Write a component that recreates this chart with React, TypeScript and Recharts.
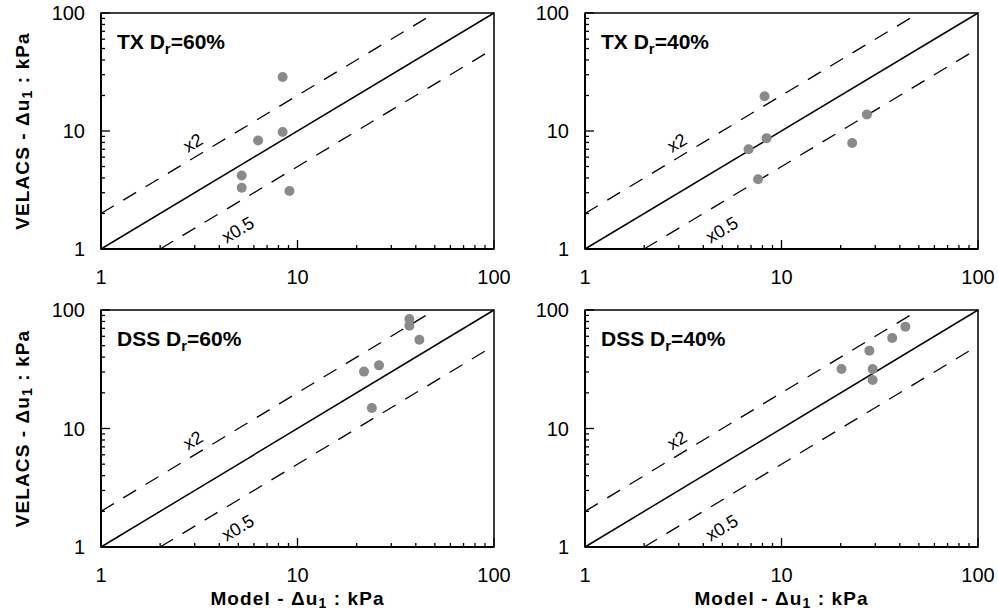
import React from "react";
import {
  ScatterChart,
  Scatter,
  XAxis,
  YAxis,
  ReferenceLine,
  ReferenceArea
} from "recharts";

// values (Model vs VELACS, kPa)
const TX60_MODEL = [8.4, 8.4, 6.3, 5.2, 5.2, 9.1];
const TX60_VELACS = [28.7, 9.8, 8.3, 4.2, 3.3, 3.1];

const TX40_MODEL = [8.2, 8.4, 6.8, 7.6, 22.9, 27.2];
const TX40_VELACS = [19.7, 8.7, 7.0, 3.9, 7.9, 13.8];

const DSS60_MODEL = [37.1, 37.1, 41.7, 21.8, 26.0, 23.9];
const DSS60_VELACS = [84, 73.7, 56.1, 30.2, 34.1, 14.9];

const DSS40_MODEL = [20.2, 28.0, 29.1, 29.1, 36.6, 42.7];
const DSS40_VELACS = [31.8, 45.4, 31.8, 25.7, 58, 72.3];

const AXIS_TICKS = [1, 2, 3, 4, 5, 6, 7, 8, 9, 10, 20, 30, 40, 50, 60, 70, 80, 90, 100];
const LABELED_TICKS = [1, 10, 100];

const FONT = "'Liberation Sans', Arial, sans-serif";
const DOT = "#8a8a8a";
const Y_AXIS_W = 40;
const X_AXIS_H = 30;

function XTick(props: any) {
  const { x, y, payload } = props;
  const v = payload.value;
  const major = LABELED_TICKS.includes(v);
  return (
    <g>
      <line x1={x} x2={x} y1={y} y2={y - (major ? 9 : 4)} stroke="#000" strokeWidth={1.3} />
      {major && (
        <text x={x} y={y + 28} textAnchor="middle" dominantBaseline="central" fontSize={20} fontFamily={FONT} fill="#000">
          {v}
        </text>
      )}
    </g>
  );
}

function YTick(props: any) {
  const { x, y, payload } = props;
  const v = payload.value;
  const major = LABELED_TICKS.includes(v);
  return (
    <g>
      <line x1={x} x2={x + (major ? 9 : 4)} y1={y} y2={y} stroke="#000" strokeWidth={1.3} />
      {major && (
        <text x={x - 16} y={y} textAnchor="end" dominantBaseline="central" fontSize={20} fontFamily={FONT} fill="#000">
          {v}
        </text>
      )}
    </g>
  );
}

function lineLabel(text: string, fx: number, fy: number) {
  return (p: any) => {
    const vb = p.viewBox;
    if (!vb) return null;
    const cx = vb.x + vb.width * fx;
    const cy = vb.y + vb.height * fy;
    const ang = (-Math.atan2(vb.height, vb.width) * 180) / Math.PI;
    return (
      <text
        x={cx}
        y={cy}
        textAnchor="middle"
        dominantBaseline="central"
        fontSize={18}
        fontFamily={FONT}
        fill="#000"
        transform={`rotate(${ang} ${cx} ${cy})`}
      >
        {text}
      </text>
    );
  };
}

type PanelProps = {
  test: string;
  dr: string;
  model: number[];
  velacs: number[];
  left: number;
  top: number;
  width: number;
  height: number;
  margin: { top: number; right: number; bottom: number; left: number };
  xTitle: boolean;
  yTitle: boolean;
};

function Panel({ test, dr, model, velacs, left, top, width, height, margin, xTitle, yTitle }: PanelProps) {
  const data = model.map((m, i) => ({ x: m, y: velacs[i] }));

  return (
    <div style={{ position: "absolute", left, top }}>
      <ScatterChart width={width} height={height} margin={margin}>
        <XAxis
          type="number"
          dataKey="x"
          scale="log"
          domain={[1, 100]}
          ticks={AXIS_TICKS}
          interval={0}
          allowDataOverflow
          height={X_AXIS_H}
          tickSize={0}
          tickMargin={0}
          tickLine={false}
          tick={<XTick />}
          axisLine={{ stroke: "#000", strokeWidth: 2 }}
          label={
            xTitle
              ? (p: any) => {
                  const vb = p.viewBox;
                  const cx = vb.x + vb.width / 2;
                  const cy = vb.y + 51;
                  return (
                    <text x={cx} y={cy} textAnchor="middle" dominantBaseline="central" fontSize={19} fontWeight="bold" fontFamily={FONT} letterSpacing={1.1} fill="#000">
                      Model - Δu<tspan dy={5} fontSize={14}>1</tspan>
                      <tspan dy={-5}> : kPa</tspan>
                    </text>
                  );
                }
              : undefined
          }
        />
        <YAxis
          type="number"
          dataKey="y"
          scale="log"
          domain={[1, 100]}
          ticks={AXIS_TICKS}
          interval={0}
          allowDataOverflow
          width={Y_AXIS_W}
          tickSize={0}
          tickMargin={0}
          tickLine={false}
          tick={<YTick />}
          axisLine={{ stroke: "#000", strokeWidth: 2 }}
          label={
            yTitle
              ? (p: any) => {
                  const vb = p.viewBox;
                  const cx = vb.x + vb.width - 79;
                  const cy = vb.y + vb.height / 2;
                  return (
                    <text x={cx} y={cy} textAnchor="middle" dominantBaseline="central" fontSize={19} fontWeight="bold" fontFamily={FONT} letterSpacing={1.1} fill="#000" transform={`rotate(-90 ${cx} ${cy})`}>
                      VELACS - Δu<tspan dy={5} fontSize={14}>1</tspan>
                      <tspan dy={-5}> : kPa</tspan>
                    </text>
                  );
                }
              : undefined
          }
        />
        <ReferenceArea
          x1={1}
          x2={100}
          y1={1}
          y2={100}
          fill="none"
          stroke="#000"
          strokeWidth={1.5}
          label={(p: any) => {
            const vb = p.viewBox;
            if (!vb) return null;
            return (
              <text x={vb.x + 16} y={vb.y + 36} fontSize={21} fontWeight="bold" fontFamily={FONT} fill="#000">
                {test} D<tspan dy={5} fontSize={15}>r</tspan>
                <tspan dy={-5}>={dr}</tspan>
              </text>
            );
          }}
        />
        <ReferenceLine segment={[{ x: 1, y: 1 }, { x: 100, y: 100 }]} stroke="#000" strokeWidth={1.5} />
        <ReferenceLine
          segment={[{ x: 1, y: 2 }, { x: 50, y: 100 }]}
          stroke="#000"
          strokeWidth={1.3}
          strokeDasharray="15 11"
          label={lineLabel("x2", 0.276, 0.648)}
        />
        <ReferenceLine
          segment={[{ x: 2, y: 1 }, { x: 100, y: 50 }]}
          stroke="#000"
          strokeWidth={1.3}
          strokeDasharray="15 11"
          label={lineLabel("x0.5", 0.233, 0.905)}
        />
        <Scatter
          data={data}
          isAnimationActive={false}
          shape={(p: any) => <circle cx={p.cx} cy={p.cy} r={5} fill={DOT} />}
        />
      </ScatterChart>
    </div>
  );
}

export default function App() {
  // left charts are wider than their half so the "100" tick label is not clipped
  const topLeftMargin = { top: 13, right: 36, bottom: 51 - X_AXIS_H, left: 101 - Y_AXIS_W };
  const topRightMargin = { top: 13, right: 20, bottom: 51 - X_AXIS_H, left: 86 - Y_AXIS_W };
  const botLeftMargin = { top: 10, right: 36, bottom: 69 - X_AXIS_H, left: 101 - Y_AXIS_W };
  const botRightMargin = { top: 10, right: 20, bottom: 69 - X_AXIS_H, left: 86 - Y_AXIS_W };

  return (
    <div style={{ position: "absolute", left: 0, top: 0, width: 998, height: 616, background: "#fff", fontFamily: FONT }}>
      <Panel test="TX" dr="60%" model={TX60_MODEL} velacs={TX60_VELACS} left={0} top={0} width={530} height={300} margin={topLeftMargin} xTitle={false} yTitle />
      <Panel test="TX" dr="40%" model={TX40_MODEL} velacs={TX40_VELACS} left={499} top={0} width={499} height={300} margin={topRightMargin} xTitle={false} yTitle={false} />
      <Panel test="DSS" dr="60%" model={DSS60_MODEL} velacs={DSS60_VELACS} left={0} top={300} width={530} height={316} margin={botLeftMargin} xTitle yTitle />
      <Panel test="DSS" dr="40%" model={DSS40_MODEL} velacs={DSS40_VELACS} left={499} top={300} width={499} height={316} margin={botRightMargin} xTitle yTitle={false} />
    </div>
  );
}
